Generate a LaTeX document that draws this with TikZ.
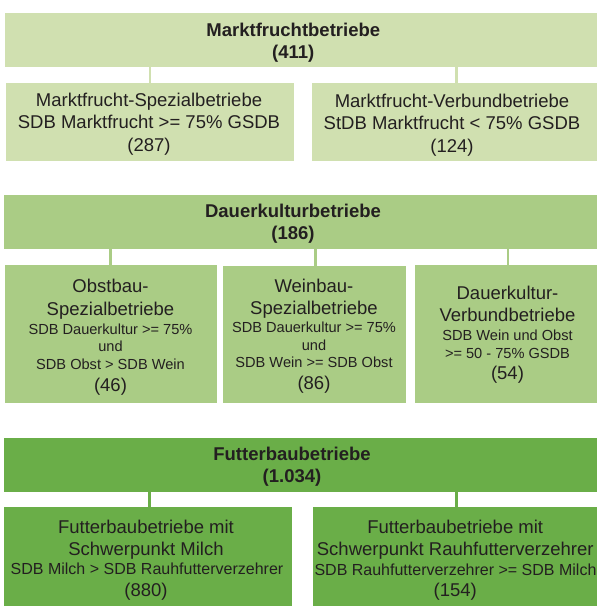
\documentclass[tikz,border=0pt]{standalone}
\usepackage{fontspec}
\setmainfont{Liberation Sans}
\usetikzlibrary{fit}
\definecolor{gA}{HTML}{D0E0B0}
\definecolor{gB}{HTML}{AACC85}
\definecolor{gC}{HTML}{6AAE48}
\definecolor{txt}{HTML}{231F20}
\begin{document}
\begin{tikzpicture}[x=1pt,y=-1pt,
  box/.style={inner sep=0pt, outer sep=0pt, draw=none},
  conn/.style={line width=2.5pt},
  ttl/.style={font=\bfseries\fontsize{18.5}{22}\selectfont, text=txt, inner sep=0pt, anchor=base},
  big/.style={font=\fontsize{18.5}{22}\selectfont, text=txt, inner sep=0pt, anchor=base},
  sml/.style={font=\fontsize{14.6}{17}\selectfont, text=txt, inner sep=0pt, anchor=base},
  smf/.style={font=\fontsize{16}{19}\selectfont, text=txt, inner sep=0pt, anchor=base}]
\useasboundingbox (0,0) rectangle (597,606);
\fill[white] (0,0) rectangle (597,606);
% ---- Marktfrucht
\node[box, fill=gA, fit={(4.5,13.3) (597,66.7)}] (m) {};
\node[box, fill=gA, fit={(6,82.7) (294,160.7)}] (m1) {};
\node[box, fill=gA, fit={(312,82.7) (597,160.7)}] (m2) {};
\draw[conn, gA] (m.south -| m1.north) -- (m1.north);
\draw[conn, gA] (m.south -| 456.5,0) coordinate (mc2) -- (mc2 |- m2.north);
\node[ttl] (mt1) at (293.3,36.5) {Marktfruchtbetriebe};
\node[ttl] (mt2) at (293.3,58.3) {(411)};
\node[big] (m1a) at (149,106) {Marktfrucht-Spezialbetriebe};
\node[big] (m1b) at (149,128.5) {SDB Marktfrucht >= 75\% GSDB};
\node[big] (m1c) at (149,151) {(287)};
\node[big] (m2a) at (452,107) {Marktfrucht-Verbundbetriebe};
\node[big] (m2b) at (452,129.5) {StDB Marktfrucht < 75\% GSDB};
\node[big] (m2c) at (452,152) {(124)};
% ---- Dauerkultur
\node[box, fill=gB, fit={(4,195) (597,248.7)}] (d) {};
\node[box, fill=gB, fit={(5,265.3) (217,402.7)}] (d1) {};
\node[box, fill=gB, fit={(223,266) (406,403)}] (d2) {};
\node[box, fill=gB, fit={(415,265) (597,402.7)}] (d3) {};
\draw[conn, gB] (d.south -| 110.3,0) coordinate (dc1) -- (dc1 |- d1.north);
\draw[conn, gB] (d.south -| 315.7,0) coordinate (dc2) -- (dc2 |- d2.north);
\draw[conn, gB] (d.south -| 508,0) coordinate (dc3) -- (dc3 |- d3.north);
\node[ttl] (dt1) at (293,217.8) {Dauerkulturbetriebe};
\node[ttl] (dt2) at (293,239.8) {(186)};
\node[big] (d1a) at (110.5,292.7) {Obstbau-};
\node[big] (d1b) at (110.5,315) {Spezialbetriebe};
\node[sml] (d1c) at (110.5,334.3) {SDB Dauerkultur >= 75\%};
\node[sml] (d1d) at (110.5,351) {und};
\node[sml] (d1e) at (110.5,369) {SDB Obst > SDB Wein};
\node[big] (d1f) at (110.5,391.5) {(46)};
\node[big] (d2a) at (314,292.3) {Weinbau-};
\node[big] (d2b) at (314,314) {Spezialbetriebe};
\node[sml] (d2c) at (314,332.8) {SDB Dauerkultur >= 75\%};
\node[sml] (d2d) at (314,350) {und};
\node[sml] (d2e) at (314,367.5) {SDB Wein >= SDB Obst};
\node[big] (d2f) at (314,389.5) {(86)};
\node[big] (d3a) at (507.5,299.3) {Dauerkultur-};
\node[big] (d3b) at (507.5,321.7) {Verbundbetriebe};
\node[sml] (d3c) at (507.5,340) {SDB Wein und Obst};
\node[sml] (d3d) at (507.5,358.3) {>= 50 - 75\% GSDB};
\node[big] (d3e) at (507.5,379.5) {(54)};
% ---- Futterbau
\node[box, fill=gC, fit={(4,438.3) (597,491.7)}] (f) {};
\node[box, fill=gC, fit={(4,507.3) (292,606)}] (f1) {};
\node[box, fill=gC, fit={(313.3,507.3) (597,606)}] (f2) {};
\draw[conn, gC] (f.south -| 149.3,0) coordinate (fc1) -- (fc1 |- f1.north);
\draw[conn, gC] (f.south -| 456.7,0) coordinate (fc2) -- (fc2 |- f2.north);
\node[ttl] (ft1) at (292,460.9) {Futterbaubetriebe};
\node[ttl] (ft2) at (292,482.9) {(1.034)};
\node[big] (f1a) at (146,533.3) {Futterbaubetriebe mit};
\node[big] (f1b) at (146,555.3) {Schwerpunkt Milch};
\node[smf] (f1c) at (147,574.5) {SDB Milch > SDB Rauhfutterverzehrer};
\node[big] (f1d) at (146,596.7) {(880)};
\node[big] (f2a) at (455.2,533.3) {Futterbaubetriebe mit};
\node[big] (f2b) at (455.2,555.5) {Schwerpunkt Rauhfutterverzehrer};
\node[smf] (f2c) at (455.5,575) {SDB Rauhfutterverzehrer >= SDB Milch};
\node[big] (f2d) at (455.2,596.7) {(154)};
\end{tikzpicture}
\end{document}
